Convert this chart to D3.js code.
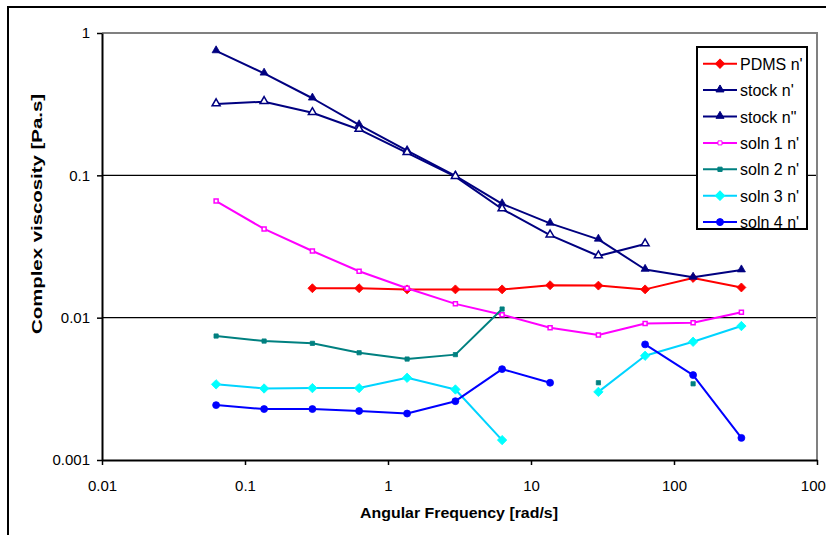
<!DOCTYPE html>
<html>
<head>
<meta charset="utf-8">
<script src="https://cdn.jsdelivr.net/npm/d3@7"></script>
<style>
  body { margin: 0; background: #fff; }
  svg { display: block; font-family: "Liberation Sans", Arial, sans-serif; }
</style>
</head>
<body>
<div id="container"></div>
<script>
const width = 826;
const height = 535;

//------------------DATA------------------//
const freq = [0.0628, 0.136, 0.296, 0.628, 1.36, 2.96, 6.28, 13.6, 29.6, 62.8, 136, 296];
const pdms = [null, null, 0.0161, 0.0161, 0.0158, 0.0158, 0.0158, 0.0169, 0.0168, 0.0158, 0.0190, 0.0163];
const stock1 = [0.748, 0.521, 0.348, 0.226, 0.149, 0.099, 0.063, 0.046, 0.0355, 0.0218, 0.0192, 0.0216];
const stock2 = [0.317, 0.329, 0.275, 0.210, 0.144, 0.098, 0.058, 0.038, 0.0271, 0.0329, null, null];
const soln1 = [0.066, 0.042, 0.0294, 0.0212, 0.0161, 0.0125, 0.0105, 0.0085, 0.00755, 0.0091, 0.0092, 0.0109];
const soln2 = [0.00743, 0.00685, 0.0066, 0.00567, 0.00512, 0.0055, 0.0115, null, 0.00349, null, 0.00343, null];
const soln3 = [0.0034, 0.00318, 0.0032, 0.0032, 0.00378, 0.00313, 0.00138, null, 0.00301, 0.0054, 0.00677, 0.00873];
const soln4 = [0.00243, 0.00228, 0.00228, 0.00221, 0.00212, 0.00259, 0.00435, 0.00349, null, 0.00649, 0.00395, 0.00143];

const seriesNames = ["PDMS n'", "stock n'", "stock n\"", "soln 1 n'", "soln 2 n'", "soln 3 n'", "soln 4 n'"];
const xTicks = [0.01, 0.1, 1, 10, 100, 1000];
const yTicks = [0.001, 0.01, 0.1, 1];

const slices = [
  {id: seriesNames[0], values: pdms, line: "#ff0000", fill: "#ff0000", marker: "diamond", size: 40},
  {id: seriesNames[1], values: stock1, line: "#000080", fill: "#000080", marker: "triangle", size: 28},
  {id: seriesNames[2], values: stock2, line: "#000080", fill: "#ffffff", marker: "triangle", size: 28},
  {id: seriesNames[3], values: soln1, line: "#ff00ff", fill: "#ffffff", marker: "square", size: 16},
  {id: seriesNames[4], values: soln2, line: "#008080", fill: "#008080", marker: "square", size: 18},
  {id: seriesNames[5], values: soln3, line: "#00d4ff", fill: "#00ffff", marker: "diamond", size: 44},
  {id: seriesNames[6], values: soln4, line: "#0000ff", fill: "#0000ff", marker: "circle", size: 38}
];

//------------------SVG------------------//
const svg = d3.select("#container").append("svg")
  .attr("width", width)
  .attr("height", height);

svg.append("rect")
  .attr("width", width).attr("height", height)
  .attr("fill", "#fff");

// outer chart frame (runs off the right and bottom edge)
svg.append("rect")
  .attr("x", 8).attr("y", 7)
  .attr("width", 840).attr("height", 560)
  .attr("fill", "none")
  .attr("stroke", "#000")
  .attr("stroke-width", 2);

//------------------SCALES------------------//
const xScale = d3.scaleLog().domain([0.01, 1000]).range([102, 817]);
const yScale = d3.scaleLog().domain([0.001, 1]).range([460, 33]);

//------------------GRID + BORDER------------------//
svg.selectAll("gridlines")
  .data([0.1, 0.01])
  .enter()
  .append("line")
  .attr("x1", xScale(0.01)).attr("x2", xScale(1000))
  .attr("y1", d => yScale(d)).attr("y2", d => yScale(d))
  .attr("stroke", "#000")
  .attr("stroke-width", 1.4);

svg.append("path")
  .attr("d", "M" + xScale(0.01) + "," + yScale(1) + "H" + xScale(1000) + "V" + yScale(0.001))
  .attr("fill", "none")
  .attr("stroke", "#808080")
  .attr("stroke-width", 2);

//------------------AXES------------------//
const xaxis = d3.axisBottom(xScale)
  .tickValues(xTicks)
  .tickFormat(d => String(d))
  .tickSize(5)
  .tickSizeOuter(0)
  .tickPadding(15);

const yaxis = d3.axisLeft(yScale)
  .tickValues(yTicks)
  .tickFormat(d => String(d))
  .tickSize(5)
  .tickSizeOuter(0)
  .tickPadding(7);

const gx = svg.append("g")
  .attr("transform", "translate(0," + yScale(0.001) + ")")
  .call(xaxis);

const gy = svg.append("g")
  .attr("transform", "translate(" + xScale(0.01) + ",0)")
  .call(yaxis);

[gx, gy].forEach(g => {
  g.select(".domain").attr("stroke", "#000").attr("stroke-width", 2);
  g.selectAll(".tick line").attr("stroke", "#000").attr("stroke-width", 1.5);
  g.selectAll(".tick text")
    .attr("fill", "#000")
    .style("font-size", "15px")
    .style("font-family", "'Liberation Sans', Arial, sans-serif");
});

svg.append("text")
  .attr("x", 459)
  .attr("y", 518)
  .attr("text-anchor", "middle")
  .attr("textLength", 198)
  .attr("lengthAdjust", "spacingAndGlyphs")
  .style("font-weight", "bold")
  .style("font-size", "15px")
  .text("Angular Frequency [rad/s]");

svg.append("text")
  .attr("transform", "translate(42,214) rotate(-90)")
  .attr("text-anchor", "middle")
  .attr("textLength", 240)
  .attr("lengthAdjust", "spacingAndGlyphs")
  .style("font-weight", "bold")
  .style("font-size", "15px")
  .text("Complex viscosity [Pa.s]");

//------------------LINES------------------//
const symbols = {
  diamond: d3.symbolSquare,
  triangle: d3.symbolTriangle,
  square: d3.symbolSquare,
  circle: d3.symbolCircle
};

function markerPath(s) {
  return d3.symbol().type(symbols[s.marker]).size(s.size)();
}

function markerTransform(s, x, y) {
  let t = "translate(" + x + "," + y + ")";
  if (s.marker === "diamond") t += " rotate(45)";
  if (s.marker === "triangle") t += " translate(0,-0.5)";
  return t;
}

const line = d3.line()
  .defined(d => d.v != null)
  .x(d => xScale(d.f))
  .y(d => yScale(d.v));

const groups = svg.selectAll("lines")
  .data(slices)
  .enter()
  .append("g");

groups.append("path")
  .attr("fill", "none")
  .attr("stroke", d => d.line)
  .attr("stroke-width", 2)
  .attr("stroke-linejoin", "round")
  .attr("d", d => line(d.values.map((v, i) => ({f: freq[i], v: v}))));

groups.each(function(s) {
  d3.select(this).selectAll("marks")
    .data(s.values.map((v, i) => ({f: freq[i], v: v})).filter(d => d.v != null))
    .enter()
    .append("path")
    .attr("d", markerPath(s))
    .attr("transform", d => markerTransform(s, xScale(d.f), yScale(d.v)))
    .attr("fill", s.fill)
    .attr("stroke", s.fill === "#ffffff" ? s.line : s.fill)
    .attr("stroke-width", s.fill === "#ffffff" ? 1.5 : 0.8);
});

//------------------LEGEND------------------//
const legend = svg.append("g");

legend.append("rect")
  .attr("x", 697).attr("y", 47)
  .attr("width", 110).attr("height", 182)
  .attr("fill", "#fff")
  .attr("stroke", "#000")
  .attr("stroke-width", 2);

const rows = legend.selectAll("rows")
  .data(slices)
  .enter()
  .append("g")
  .attr("transform", (d, i) => "translate(0," + (63.7 + i * 26.4) + ")");

rows.append("line")
  .attr("x1", 703).attr("x2", 737)
  .attr("stroke", d => d.line)
  .attr("stroke-width", 2);

rows.append("path")
  .attr("d", d => markerPath(d))
  .attr("transform", d => markerTransform(d, 720, 0))
  .attr("fill", d => d.id === "stock n\"" ? "#000080" : d.fill)
  .attr("stroke", d => d.fill === "#ffffff" ? d.line : d.fill)
  .attr("stroke-width", 1);

rows.append("text")
  .attr("x", 740)
  .attr("y", 6)
  .style("font-size", "16px")
  .text(d => d.id);
</script>
</body>
</html>
